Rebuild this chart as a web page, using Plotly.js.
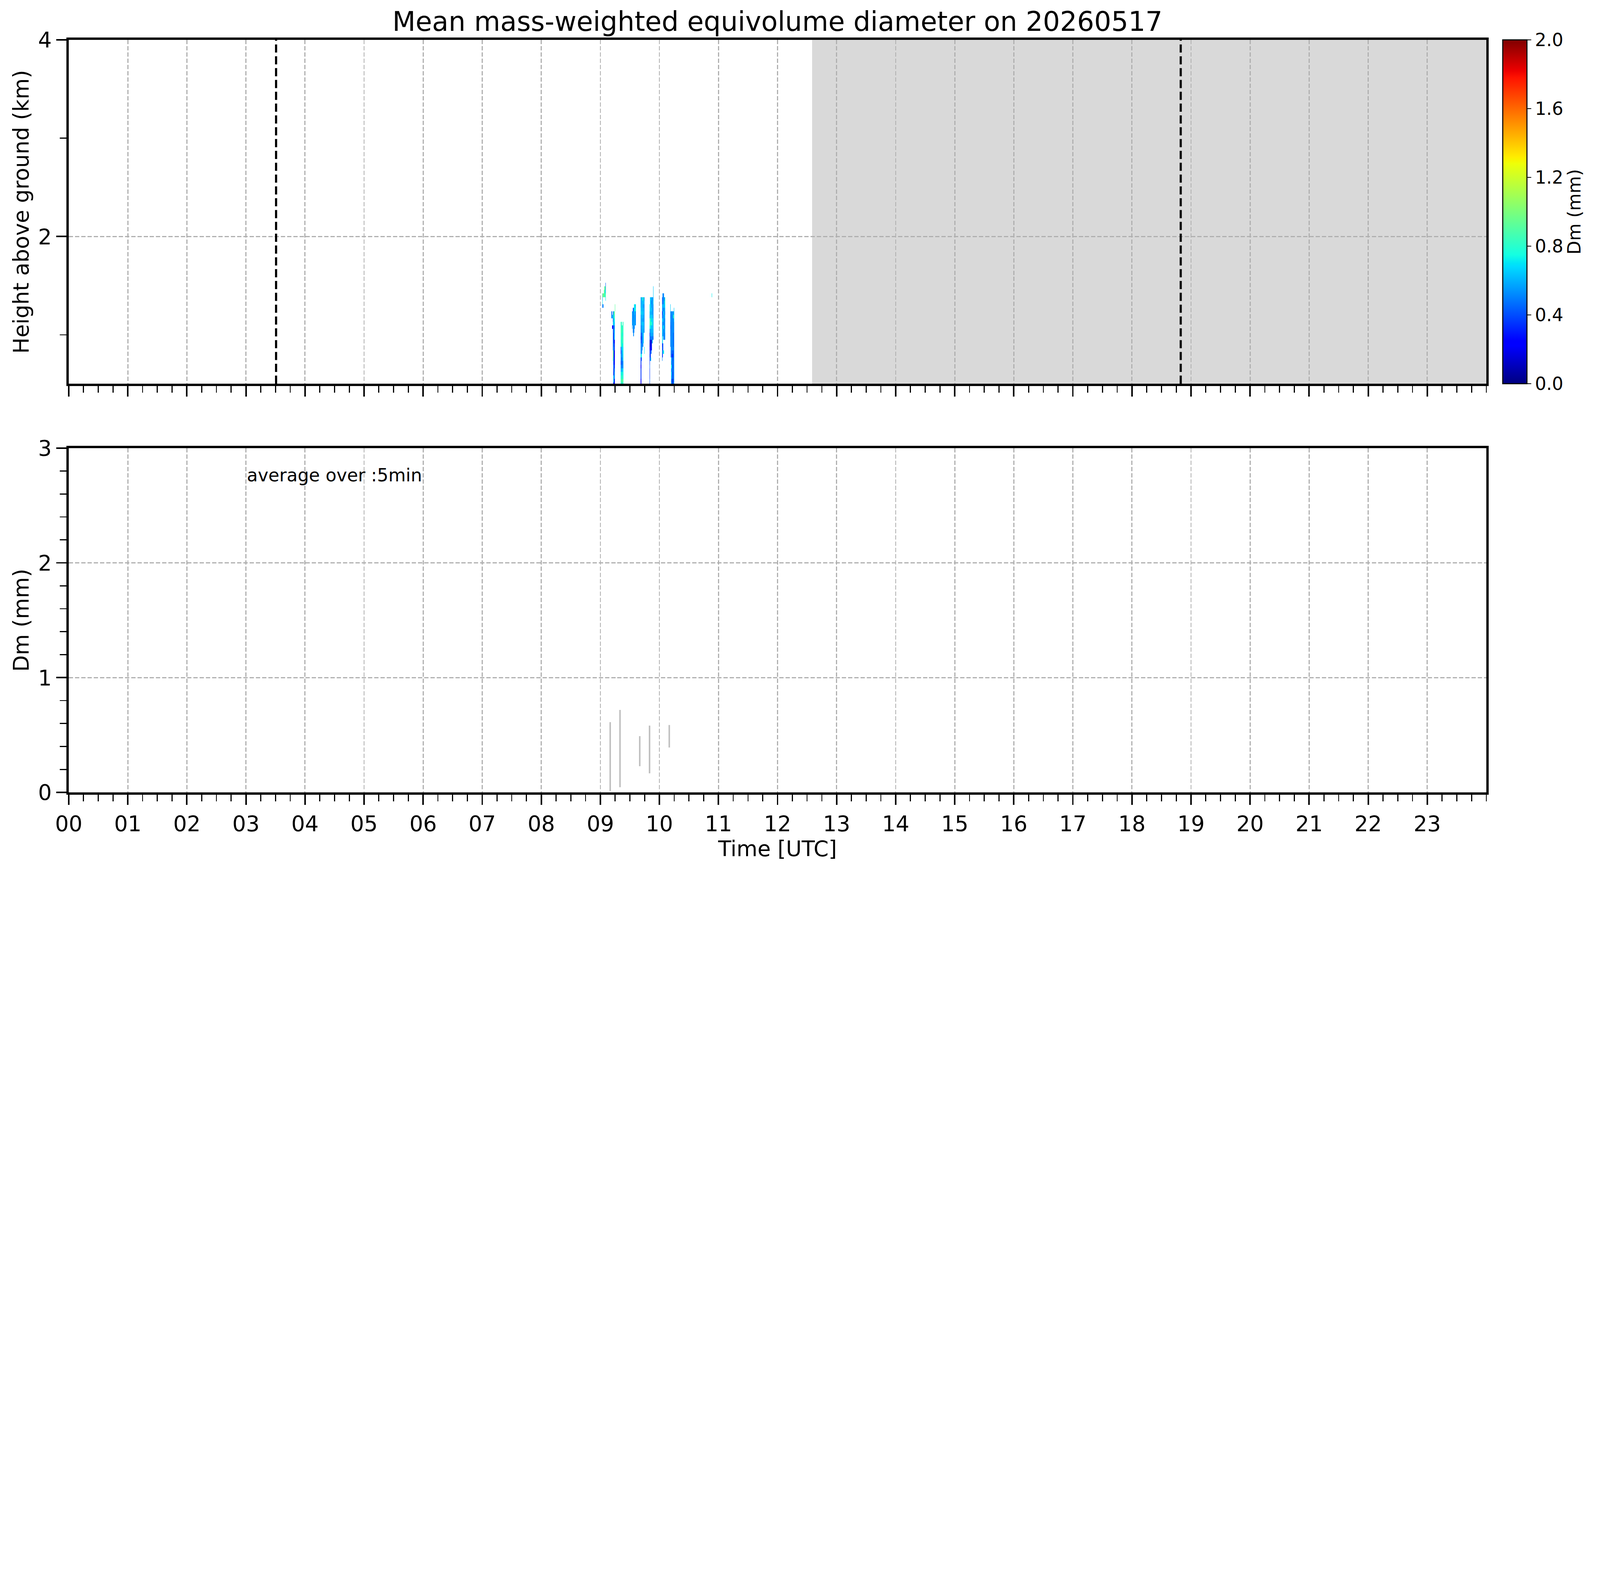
<!DOCTYPE html>
<html><head><meta charset="utf-8">
<script src="https://cdn.plot.ly/plotly-3.0.1.min.js"></script>
<style>html,body{margin:0;padding:0;background:#fff;overflow:hidden}</style>
</head><body><div id="chart"></div>
<script>
// ---------- data ----------
const hourLabels = ['00','01','02','03','04','05','06','07','08','09','10','11','12','13','14','15','16','17','18','19','20','21','22','23'];
const hourTicks = [0,1,2,3,4,5,6,7,8,9,10,11,12,13,14,15,16,17,18,19,20,21,22,23];
// range-gate centre heights (km), top gate first
const heightsKm = [1.512,1.476,1.440,1.403,1.367,1.331,1.295,1.259,1.222,1.186,1.150,1.114,1.078,1.041,1.005,0.969,0.933,0.897,0.860,0.824,0.788,0.752,0.716,0.679,0.643,0.607,0.571,0.535,0.498];
// Dm (mm) code used in the profile strings; '.' = no data
const dmCodes = {a:0.10,b:0.25,c:0.35,d:0.45,e:0.52,f:0.58,g:0.65,h:0.72,i:0.82,j:0.92,k:1.10,l:1.25};
const profileStartHour = 9;      // profiles are 30-s bins counted from 09:00 UTC
const profileBinMinutes = 0.5;
const profileBinCount = 232;
const colBins = [4,5,6,7,8,9,10, 22,23,24,25,26,27,28,29, 41,42,43,44,45,46, 64,65,66,67,68,69,70,71, 82,83,84,85,86,87,88,89, 100,101,102,103,104,105,106,107, 125,126,127,128,129,130,131, 142,143,144,145,146,147,148,149, 226];
const colTopRows = [3,3,3,2,1,1,0, 8,8,9,8,8,8,8,6, 11,11,11,11,11,11, 8,8,7,7,6,6,6,6, 4,4,4,4,4,4,4,4, 6,4,4,4,4,4,4,1, 4,3,3,3,4,4,4, 6,8,8,8,8,8,8,7, 3];
const colValues = [
 "gfhd","k..e","i","ji","jjj","jii","defjh",
 "dd","de","g..b","ddcgbddddcckkj","fhhgeddcdgghhgdgcbghb","iiggddbcccebbccbddfec","jihgefggbccbbbbcdeebb","jj",
 "iiiiiiibbeecefhhih","iijiihigeeddeghiii","iiiiiiihgfeeefhiji",".iiiiihgffedegiiji","iiihiihhhggeeghiji","iiiiiiihhhhffhhhih",
 "ffeff","eeee","deefeee","deeefeee","hhfffeee","hhgfffe","hhfeef","gheeee",
 "fffggfffeedcdeeehccbcccbb","gfgfhffgfedddeefhd","fgfgfgffffdddefe","gfgfggfgfgeddee","igfggffggfggge","gfffggfgfgfff","fgeffeeffe","efeeeeeeee....hh",
 "hhgfiihebdaabccccdcccdc","ggggfgiihffdcbbcce","ffgfgghihgfeaacg.g","gefgfhghfffeacbc","eeegffgigffdcbb","fffffghhggfef","eefeefgggffd","ggggheefeffffed",
 "ccgfbcgeggfhhcddce","eeeeeefgfeffggccdc","eeffeeefefff..ddh","eeegegffeheee...h","effffeeeeeee","fhgeefeeefee","iihgegefefee",
 "ggededdedeee","eeeeddeeeeedd","eeeeeeeeeeeedfehegfee","eeeeeeeeeeecceeeedebe","feeeeeeeeeeeceeeeeeec","eeeeeeeeeeecbbcbcbbab","fieeeeddddeddeeeeeede","gfggeeeeeeeeeeeeeeeeee",
 "h"
];
// 5-min averaged Dm: vertical spread (mm)
const dmTimes = [9.167, 9.333, 9.667, 9.833, 10.167];
const dmLow  = [0.012, 0.045, 0.228, 0.166, 0.391];
const dmHigh = [0.612, 0.718, 0.490, 0.582, 0.587];
// sunrise / sunset markers and shaded (no-data) period, hours UTC
const sunriseHour = 3.51;
const sunsetHour = 18.826;
const shadeStartHour = 12.585;
const shadeEndHour = 24;

// ---------- build heatmap table ----------
const xCenters = [];
for (let b = 0; b < profileBinCount; b++) xCenters.push(profileStartHour + (b + 0.5) * profileBinMinutes / 60);
const z = heightsKm.map(() => new Array(profileBinCount).fill(null));
colBins.forEach((bin, k) => {
  const s = colValues[k];
  for (let i = 0; i < s.length; i++) {
    const ch = s[i];
    if (ch !== '.') z[colTopRows[k] + i][bin] = dmCodes[ch];
  }
});

const jet = [[0,'rgb(0,0,128)'],[0.11,'rgb(0,0,255)'],[0.125,'rgb(0,0,255)'],[0.34,'rgb(0,219,255)'],[0.35,'rgb(0,229,247)'],[0.375,'rgb(20,255,226)'],[0.64,'rgb(238,255,8)'],[0.65,'rgb(247,246,0)'],[0.66,'rgb(255,236,0)'],[0.89,'rgb(255,19,0)'],[0.91,'rgb(237,0,0)'],[1,'rgb(128,0,0)']];

// ---------- geometry (reference pixels, scaled to the viewport) ----------
const REF_W = 7442, REF_H = 4031;
const vw = document.documentElement.clientWidth || window.innerWidth || REF_W;
const S = vw / REF_W;
const P = v => v * S;
const W = Math.floor(REF_W * S), H = Math.floor(REF_H * S);
const chartDiv = document.getElementById('chart');
chartDiv.style.width = W + 'px';
chartDiv.style.height = H + 'px';

const mL = 319, mR = 527, mT = 186, mB = 346;
const plotW = REF_W - mL - mR, plotH = REF_H - mT - mB;
const topDomain = [(3685 - 1785) / plotH, 1];
const botDomain = [0, (3685 - 2084) / plotH];

const FONT = 'DejaVu Sans, Liberation Sans, sans-serif';
const dashStr = (a, b) => P(a).toFixed(2) + 'px,' + P(b).toFixed(2) + 'px';

const heat = {
  type: 'heatmap', x: xCenters, y: heightsKm, z: z,
  xaxis: 'x', yaxis: 'y',
  colorscale: jet, zmin: 0, zmax: 2, zsmooth: false, hoverongaps: false,
  colorbar: {
    thickness: P(112), thicknessmode: 'pixels',
    len: P(1599), lenmode: 'pixels',
    x: (6992 - mL) / plotW, xanchor: 'left', xref: 'paper',
    y: 1, yanchor: 'top', yref: 'paper',
    xpad: 0, ypad: 0,
    outlinewidth: P(5), outlinecolor: '#000',
    tickmode: 'array', tickvals: [0,0.4,0.8,1.2,1.6,2.0], ticktext: ['0.0','0.4','0.8','1.2','1.6','2.0'],
    ticks: 'outside', ticklen: P(19), tickwidth: P(4), tickcolor: '#000',
    tickfont: {family: FONT, size: P(83), color: '#000'},
    title: {text: 'Dm (mm)', side: 'right', font: {family: FONT, size: P(83), color: '#000'}}
  }
};

const segX = [], segY = [];
dmTimes.forEach((t, i) => { segX.push(t, t, null); segY.push(dmLow[i], dmHigh[i], null); });
const dmTrace = {
  type: 'scatter', mode: 'lines', x: segX, y: segY, xaxis: 'x2', yaxis: 'y2',
  line: {color: '#bfbfbf', width: P(7)}, connectgaps: false, showlegend: false, hoverinfo: 'skip'
};

const gridCommon = {showgrid: true, gridcolor: '#b0b0b0', gridwidth: P(5), griddash: dashStr(20, 9), zeroline: false};
const lineCommon = {showline: true, linewidth: P(10), linecolor: '#000', mirror: true,
  ticks: 'outside', ticklen: P(49), tickwidth: P(7), tickcolor: '#000'};
const tickFont = {family: FONT, size: P(100), color: '#000'};
const minorX = {tick0: 0, dtick: 0.25, ticks: 'outside', ticklen: P(32), tickwidth: P(5), tickcolor: '#000', showgrid: false};

const xCommon = Object.assign({}, gridCommon, lineCommon, {
  range: [0, 24], tickmode: 'array', tickvals: hourTicks, ticktext: hourLabels,
  minor: minorX, tickfont: tickFont
});

const layout = {
  width: W, height: H,
  margin: {l: P(mL), r: P(mR), t: P(mT), b: P(mB), pad: 0},
  paper_bgcolor: '#fff', plot_bgcolor: 'rgba(0,0,0,0)',
  font: {family: FONT, color: '#000'},
  showlegend: false,
  title: {text: 'Mean mass-weighted equivolume diameter on 20260517',
    font: {family: FONT, size: P(125), color: '#000'},
    x: (mL + plotW / 2) / REF_W, xanchor: 'center', xref: 'container',
    y: 1 - 99 / REF_H, yanchor: 'middle', yref: 'container'},
  xaxis: Object.assign({}, xCommon, {domain: [0, 1], anchor: 'y', showticklabels: false}),
  yaxis: Object.assign({}, gridCommon, lineCommon, {
    domain: topDomain, anchor: 'x', range: [0.503, 4],
    tickmode: 'array', tickvals: [2, 4], ticktext: ['2', '4'], tickfont: tickFont,
    minor: {tickmode: 'array', tickvals: [1, 3], ticks: 'outside', ticklen: P(32), tickwidth: P(5), tickcolor: '#000', showgrid: false},
    title: {text: 'Height above ground (km)', font: {family: FONT, size: P(100), color: '#000'}, standoff: P(15)}
  }),
  xaxis2: Object.assign({}, xCommon, {domain: [0, 1], anchor: 'y2', showticklabels: true,
    title: {text: 'Time [UTC]', font: {family: FONT, size: P(100), color: '#000'}, standoff: P(18)}}),
  yaxis2: Object.assign({}, gridCommon, lineCommon, {
    domain: botDomain, anchor: 'x2', range: [0, 3],
    tickmode: 'array', tickvals: [0, 1, 2, 3], ticktext: ['0', '1', '2', '3'], tickfont: tickFont,
    minor: {tick0: 0, dtick: 0.2, ticks: 'outside', ticklen: P(32), tickwidth: P(5), tickcolor: '#000', showgrid: false},
    title: {text: 'Dm (mm)', font: {family: FONT, size: P(100), color: '#000'}, standoff: P(14)}
  }),
  shapes: [
    {type: 'rect', xref: 'x', yref: 'y domain', x0: shadeStartHour, x1: shadeEndHour, y0: 0, y1: 1,
     fillcolor: '#d9d9d9', line: {width: 0}, layer: 'below'},
    {type: 'line', xref: 'x', yref: 'y domain', x0: sunriseHour, x1: sunriseHour, y0: 0, y1: 1,
     line: {color: '#000', width: P(10), dash: dashStr(38, 17)}, layer: 'above'},
    {type: 'line', xref: 'x', yref: 'y domain', x0: sunsetHour, x1: sunsetHour, y0: 0, y1: 1,
     line: {color: '#000', width: P(10), dash: dashStr(38, 17)}, layer: 'above'}
  ],
  annotations: [
    {text: 'average over :5min', xref: 'x2', yref: 'y2', x: 3, y: 2.764, xanchor: 'left', yanchor: 'middle',
     showarrow: false, font: {family: FONT, size: P(83), color: '#000'}}
  ]
};

Plotly.newPlot('chart', [heat, dmTrace], layout, {displayModeBar: false, staticPlot: true});
</script>
</body></html>
